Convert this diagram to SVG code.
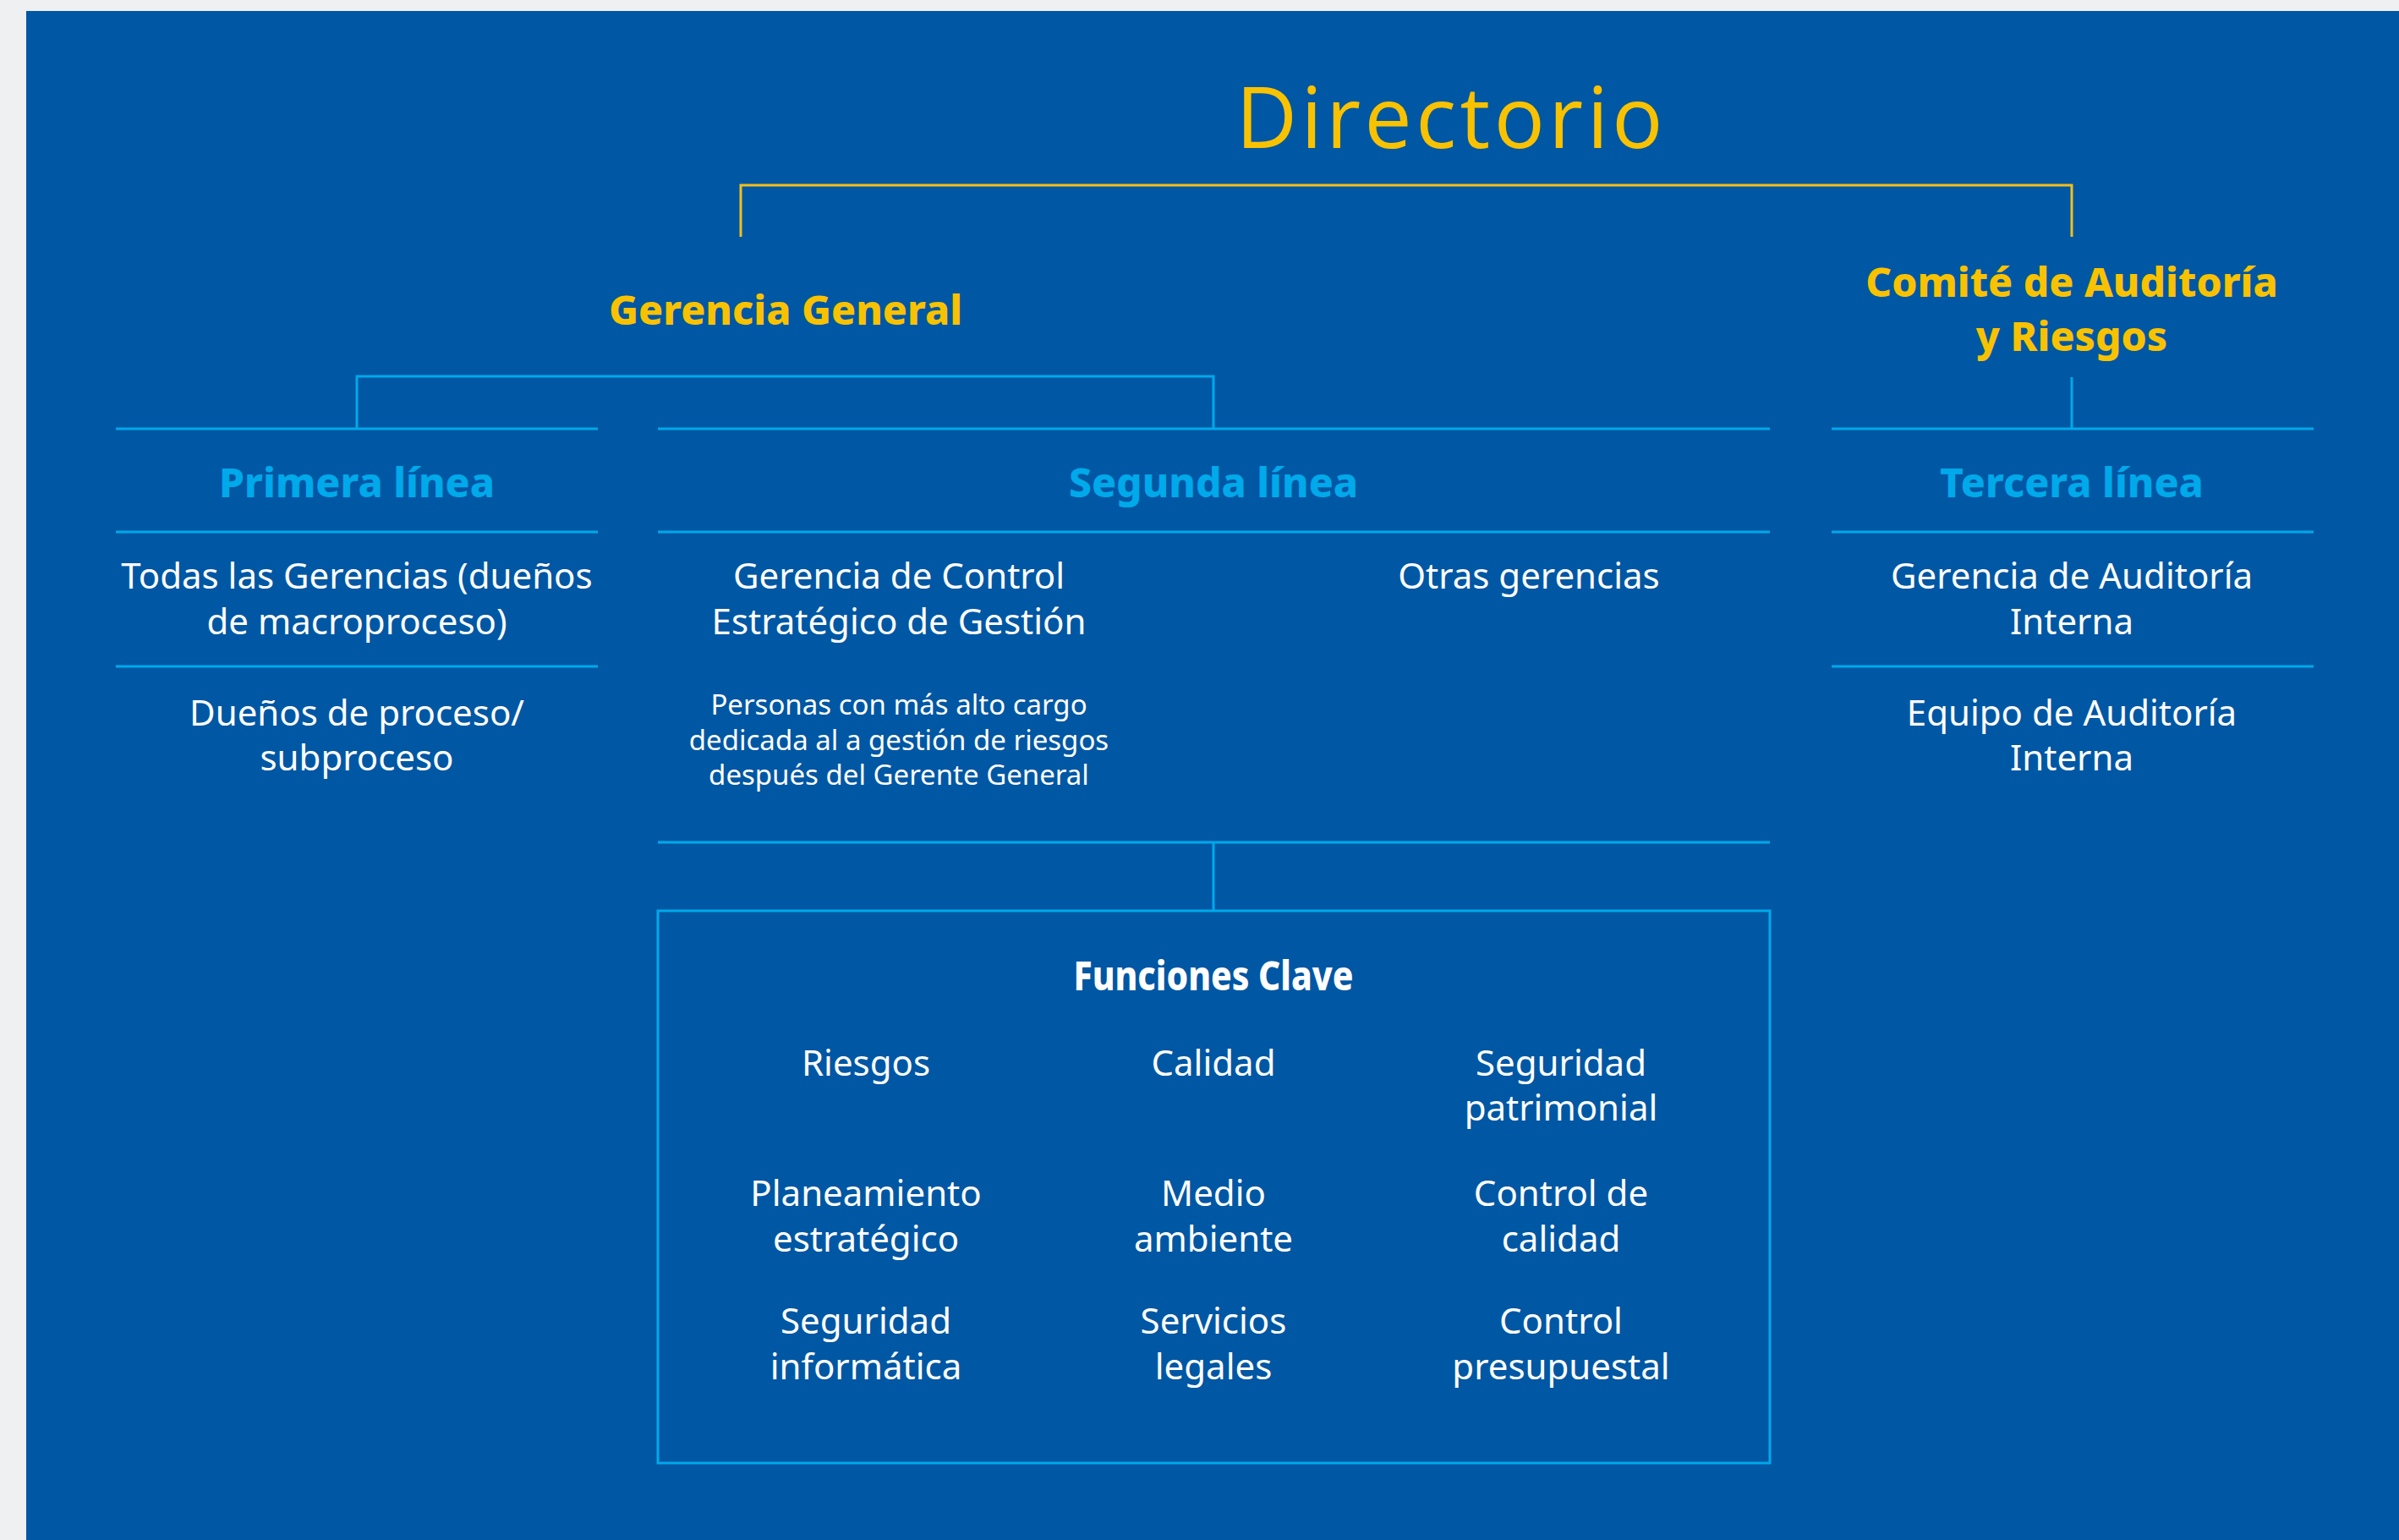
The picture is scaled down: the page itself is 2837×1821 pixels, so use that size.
<svg xmlns="http://www.w3.org/2000/svg" width="2837" height="1821" viewBox="0 0 2837 1821">
<style>
.t{font-family:"Noto Sans","Open Sans","DejaVu Sans",sans-serif;fill:#ffffff;font-size:42px;text-anchor:middle}
.s{font-size:33px}
.h{font-family:"Noto Sans","Open Sans","DejaVu Sans",sans-serif;font-weight:800;font-size:48px;text-anchor:middle}
.y{fill:#f9c200}
.c{fill:#00a9ea}
.w{fill:#ffffff}
.ln{stroke:#00a9ea;stroke-width:3;fill:none}
.yl{stroke:#f2bf1a;stroke-width:3;fill:none}
</style>
<rect x="0" y="0" width="2837" height="1821" fill="#eff0f2"/>
<rect x="31" y="13" width="2806" height="1808" fill="#0057a4"/>

<g id="connectors">
<path class="yl" d="M876 280 V219 H2450 V280"/>
<path class="ln" d="M422 507 V445 H1435 V507"/>
<path class="ln" d="M2450 446 V507"/>
<path class="ln" d="M1435 996 V1077"/>
</g>

<g id="directorio">
<text x="1714" y="175" font-family="'Open Sans','Noto Sans',sans-serif" font-size="100" fill="#f9c200" text-anchor="middle" textLength="505">Directorio</text>
</g>

<g id="gerencia-general">
<text class="h y" x="929" y="384">Gerencia General</text>
</g>

<g id="comite">
<text class="h y" x="2450" y="351">Comité de Auditoría</text>
<text class="h y" x="2450" y="415">y Riesgos</text>
</g>

<g id="primera-linea">
<path class="ln" d="M137 507 H707 M137 629 H707 M137 788 H707"/>
<text class="h c" x="422" y="588">Primera línea</text>
<text class="t" x="422" y="696">Todas las Gerencias (dueños</text>
<text class="t" x="422" y="750">de macroproceso)</text>
<text class="t" x="422" y="858">Dueños de proceso/</text>
<text class="t" x="422" y="911">subproceso</text>
</g>

<g id="segunda-linea">
<path class="ln" d="M778 507 H2093 M778 629 H2093 M778 996 H2093"/>
<text class="h c" x="1435" y="588">Segunda línea</text>
<text class="t" x="1063" y="696">Gerencia de Control</text>
<text class="t" x="1063" y="750">Estratégico de Gestión</text>
<text class="t s" x="1063" y="845">Personas con más alto cargo</text>
<text class="t s" x="1063" y="887">dedicada al a gestión de riesgos</text>
<text class="t s" x="1063" y="928">después del Gerente General</text>
<text class="t" x="1808" y="696">Otras gerencias</text>
</g>

<g id="tercera-linea">
<path class="ln" d="M2166 507 H2736 M2166 629 H2736 M2166 788 H2736"/>
<text class="h c" x="2450" y="588">Tercera línea</text>
<text class="t" x="2450" y="696">Gerencia de Auditoría</text>
<text class="t" x="2450" y="750">Interna</text>
<text class="t" x="2450" y="858">Equipo de Auditoría</text>
<text class="t" x="2450" y="911">Interna</text>
</g>

<g id="funciones-clave">
<rect class="ln" x="778" y="1077" width="1315" height="653"/>
<text class="h w" x="1435" y="1171" font-size="40" font-weight="700" textLength="331" lengthAdjust="spacingAndGlyphs">Funciones Clave</text>
<text class="t" x="1024" y="1272">Riesgos</text>
<text class="t" x="1435" y="1272">Calidad</text>
<text class="t" x="1846" y="1272">Seguridad</text>
<text class="t" x="1846" y="1325">patrimonial</text>
<text class="t" x="1024" y="1426">Planeamiento</text>
<text class="t" x="1024" y="1480">estratégico</text>
<text class="t" x="1435" y="1426">Medio</text>
<text class="t" x="1435" y="1480">ambiente</text>
<text class="t" x="1846" y="1426">Control de</text>
<text class="t" x="1846" y="1480">calidad</text>
<text class="t" x="1024" y="1577">Seguridad</text>
<text class="t" x="1024" y="1631">informática</text>
<text class="t" x="1435" y="1577">Servicios</text>
<text class="t" x="1435" y="1631">legales</text>
<text class="t" x="1846" y="1577">Control</text>
<text class="t" x="1846" y="1631">presupuestal</text>
</g>
</svg>
